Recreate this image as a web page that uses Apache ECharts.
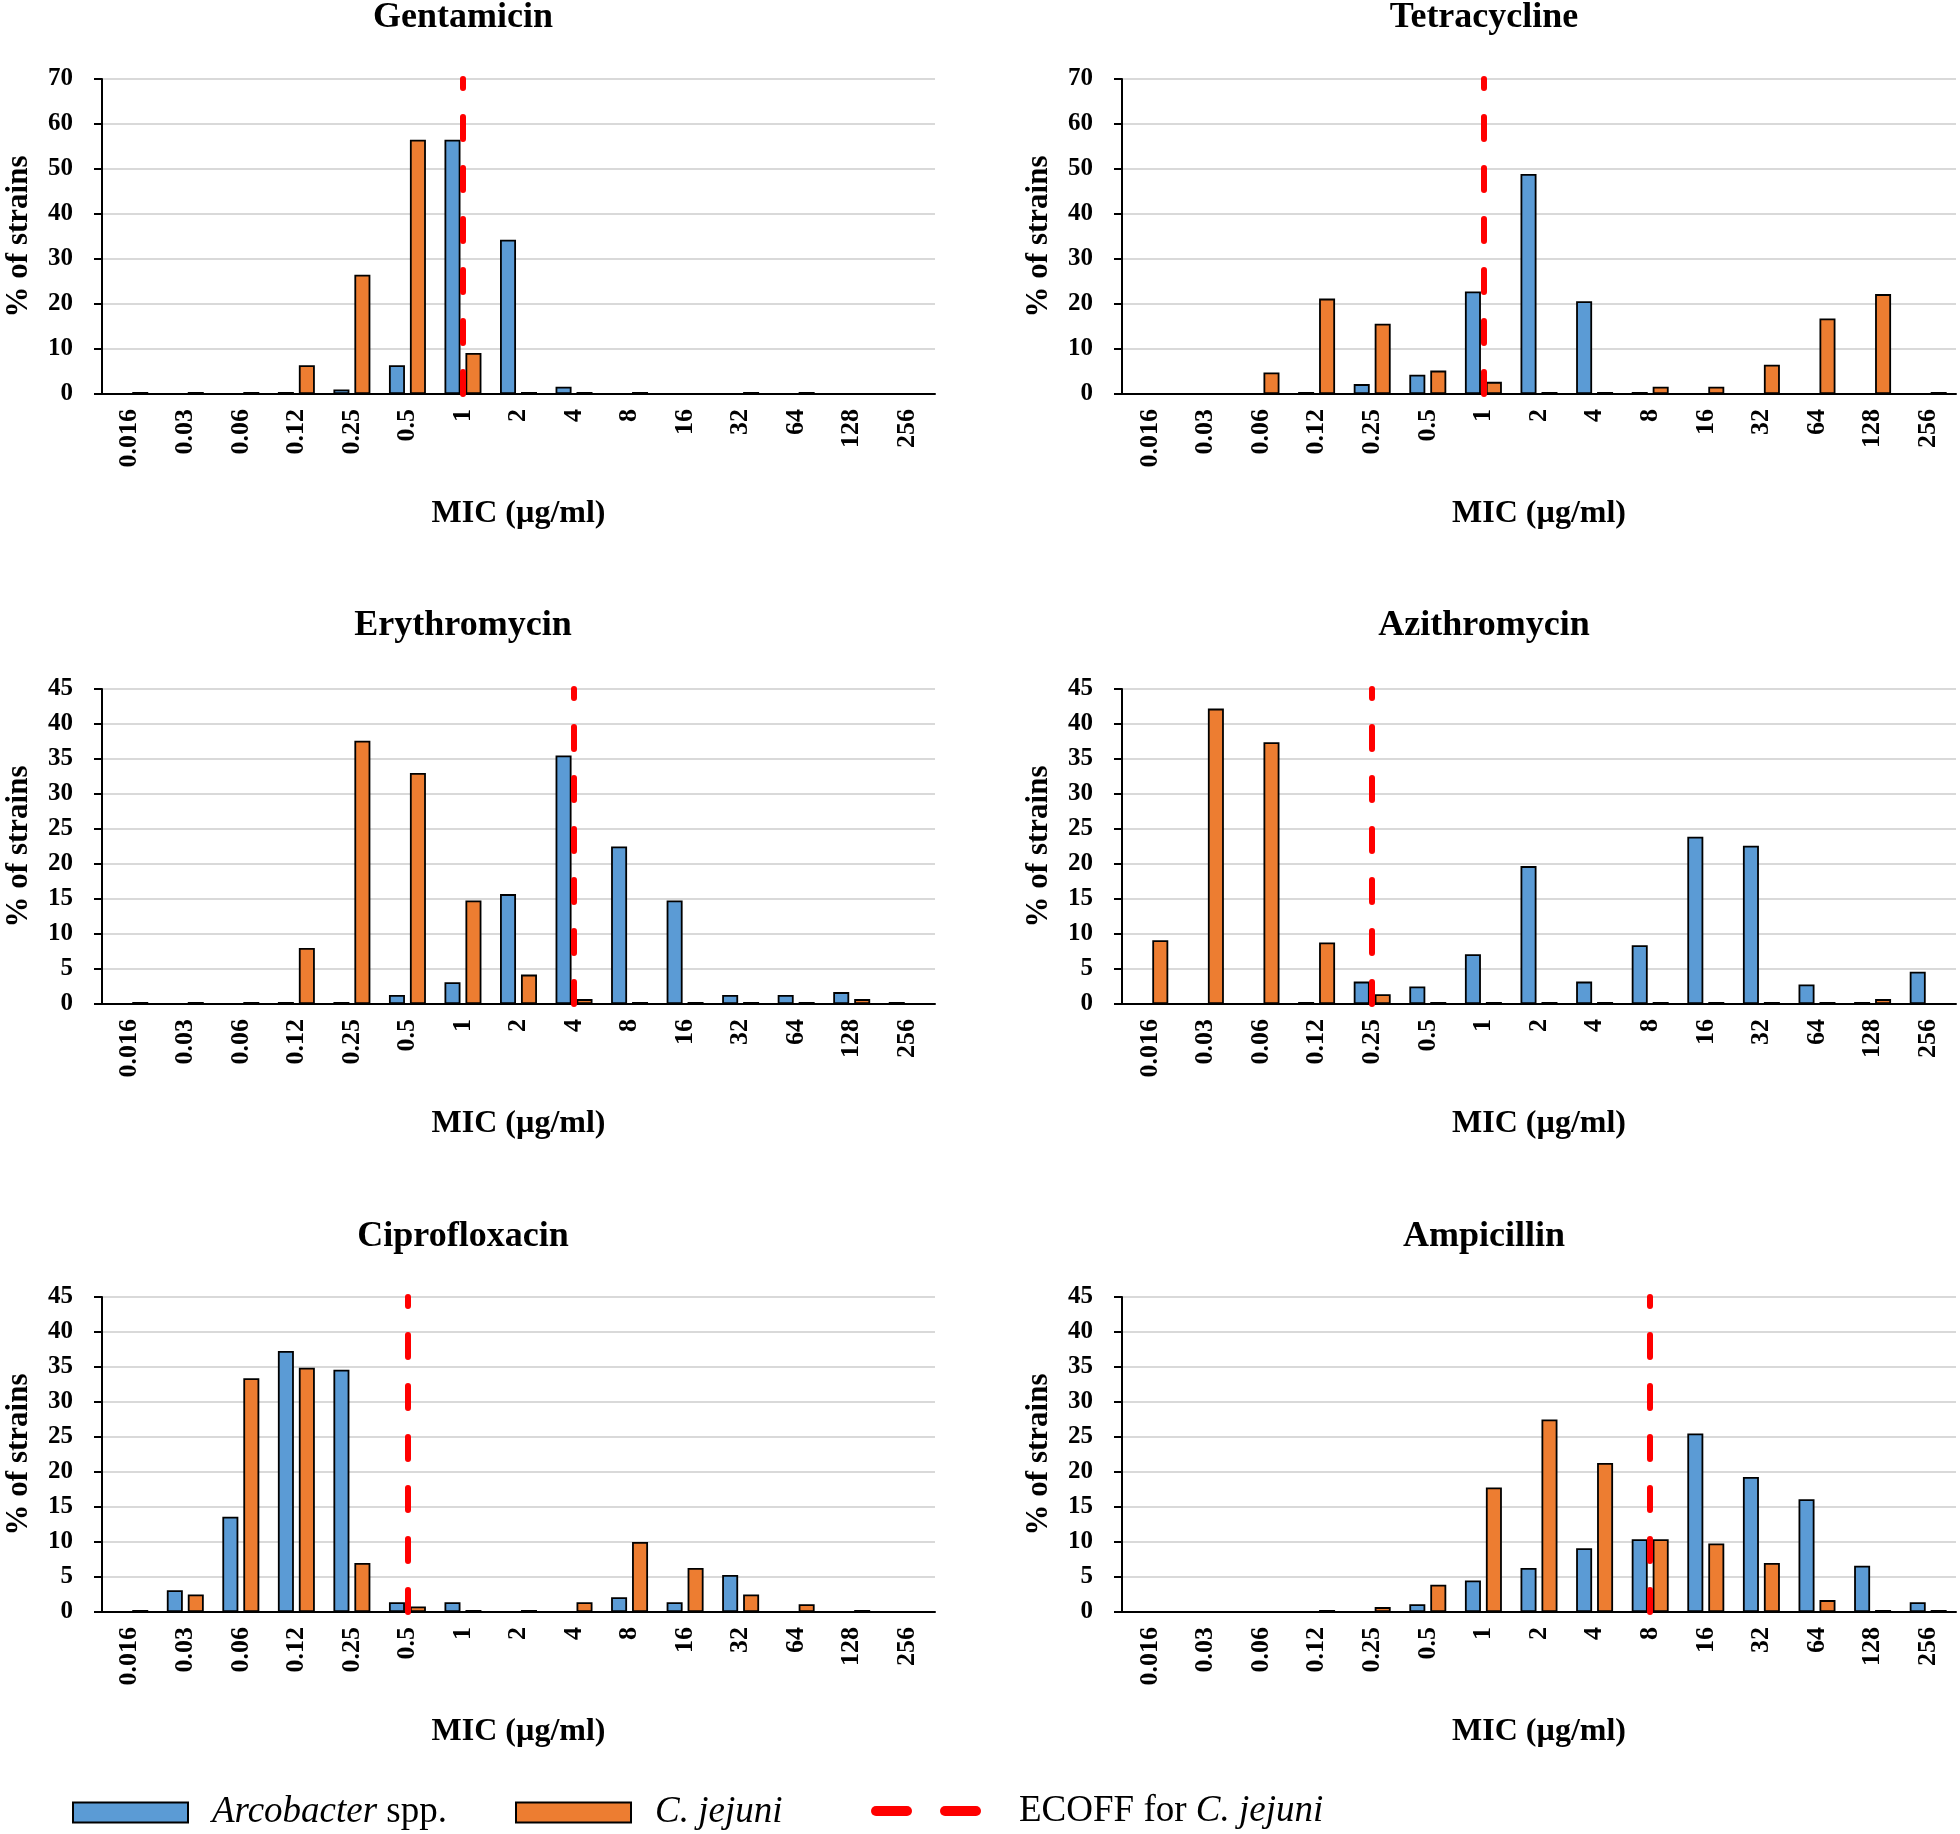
<!DOCTYPE html>
<html>
<head>
<meta charset="utf-8">
<script src="https://cdn.jsdelivr.net/npm/echarts@6/dist/echarts.min.js"></script>
<style>html,body{margin:0;padding:0;background:#fff}#c{width:1960px;height:1834px}</style>
</head>
<body>
<div id="c"></div>
<script>
const FONT = '"Liberation Serif", "Times New Roman", serif';

const categories = ['0.016','0.03','0.06','0.12','0.25','0.5','1','2','4','8','16','32','64','128','256'];
const panelTitles = ['Gentamicin','Tetracycline','Erythromycin','Azithromycin','Ciprofloxacin','Ampicillin'];
const seriesNames = ['Arcobacter spp.', 'C. jejuni', 'ECOFF for C. jejuni'];

// null = no bar, 0 = zero bar (drawn as a thin border stub)
const arcobacterGentamicin    = [null,null,null,0,1.0,6.4,56.5,34.3,1.6,null,null,null,null,null,null];
const jejuniGentamicin        = [0,0,0,6.4,26.5,56.5,9.1,0,0,0,null,0,0,null,null];
const arcobacterTetracycline  = [null,null,null,0,2.2,4.3,22.8,48.9,20.6,0,null,null,null,null,null];
const jejuniTetracycline      = [null,null,4.8,21.2,15.6,5.2,2.7,0,0,1.6,1.6,6.5,16.8,22.2,0];
const arcobacterErythromycin  = [null,null,null,0,0,1.3,3.1,15.7,35.5,22.5,14.8,1.3,1.3,1.7,0];
const jejuniErythromycin      = [0,0,0,8.0,37.6,33.0,14.8,4.2,0.7,0,0,0,0,0.7,null];
const arcobacterAzithromycin  = [null,null,null,0,3.2,2.5,7.1,19.7,3.2,8.4,23.9,22.6,2.8,0,4.6];
const jejuniAzithromycin      = [9.1,42.2,37.4,8.8,1.4,0,0,0,0,0,0,0,0,0.7,null];
const arcobacterCiprofloxacin = [null,3.1,13.6,37.3,34.6,1.4,1.4,null,null,2.1,1.4,5.3,null,null,null];
const jejuniCiprofloxacin     = [0,2.5,33.4,34.9,7.0,0.8,0,0,1.4,10.0,6.3,2.5,1.1,0,null];
const arcobacterAmpicillin    = [null,null,null,null,null,1.1,4.5,6.3,9.1,10.4,25.5,19.3,16.1,6.6,1.4];
const jejuniAmpicillin        = [null,null,null,0,0.7,3.9,17.8,27.5,21.3,10.4,9.8,7.0,1.7,0,0];

const ecoffValues = ['1','1','4','0.25','0.5','8'];
const yMaxValues  = [70,70,45,45,45,45];
const yIntervals  = [10,10,5,5,5,5];

const arcobacterData = [arcobacterGentamicin, arcobacterTetracycline, arcobacterErythromycin,
                        arcobacterAzithromycin, arcobacterCiprofloxacin, arcobacterAmpicillin];
const jejuniData = [jejuniGentamicin, jejuniTetracycline, jejuniErythromycin,
                    jejuniAzithromycin, jejuniCiprofloxacin, jejuniAmpicillin];

// layout
const colLefts = [102, 1122];
const colCenters = [463, 1484];
const rowTops = [79, 689, 1297];
const titleYs = [18, 626, 1237];
const plotW = 833, plotH = 315;

const grids = [], xAxes = [], yAxes = [], series = [], graphics = [];
for (let i = 0; i < 6; i++) {
  const col = i % 2, row = Math.floor(i / 2);
  grids.push({left: colLefts[col], top: rowTops[row], width: plotW + (col ? 1 : 0), height: plotH, containLabel: false});
  xAxes.push({
    type: 'category', gridIndex: i, data: categories,
    axisLine: {lineStyle: {color: '#000', width: 2}},
    axisTick: {alignWithLabel: true, length: 7, lineStyle: {color: '#000', width: 2}},
    axisLabel: {rotate: 90, interval: 0, margin: 15, color: '#000', fontFamily: FONT, fontWeight: 'bold', fontSize: 26},
    name: 'MIC (µg/ml)', nameLocation: 'middle', nameGap: 104,
    nameTextStyle: {color: '#000', fontFamily: FONT, fontWeight: 'bold', fontSize: 32}
  });
  yAxes.push({
    type: 'value', gridIndex: i, min: 0, max: yMaxValues[i], interval: yIntervals[i],
    axisLine: {show: true, lineStyle: {color: '#000', width: 2}},
    axisTick: {show: true, length: 8, lineStyle: {color: '#000', width: 2}},
    splitLine: {show: true, lineStyle: {color: '#D9D9D9', width: 2}},
    axisLabel: {margin: 29, color: '#000', fontFamily: FONT, fontWeight: 'bold', fontSize: 25},
    name: '% of strains', nameLocation: 'middle', nameGap: 68,
    nameTextStyle: {color: '#000', fontFamily: FONT, fontWeight: 'bold', fontSize: 31}
  });
  const ecoffIdx = categories.indexOf(ecoffValues[i]);
  series.push({
    type: 'bar', name: seriesNames[0], xAxisIndex: i, yAxisIndex: i, data: arcobacterData[i],
    barWidth: 16, barGap: '31%', barMinHeight: 2,
    itemStyle: {color: '#5B9BD5', borderColor: '#000', borderWidth: 1.8}
  });
  series.push({
    type: 'bar', name: seriesNames[1], xAxisIndex: i, yAxisIndex: i, data: jejuniData[i],
    barWidth: 16, barGap: '31%', barMinHeight: 2,
    itemStyle: {color: '#ED7D31', borderColor: '#000', borderWidth: 1.8}
  });
  series.push({
    type: 'line', name: seriesNames[2], xAxisIndex: i, yAxisIndex: i, data: [], z: 5,
    symbol: 'none',
    markLine: {
      silent: true, symbol: ['none', 'none'], label: {show: false},
      lineStyle: {color: '#FF0000', width: 6, type: [22, 29], cap: 'round'},
      data: [[{coord: [ecoffIdx, 0]}, {coord: [ecoffIdx, yMaxValues[i]]}]]
    }
  });
  graphics.push({
    type: 'text', x: colCenters[col], y: titleYs[row],
    style: {text: panelTitles[i], fill: '#000', fontFamily: FONT, fontWeight: 'bold', fontSize: 36,
            align: 'center', verticalAlign: 'middle', textAlign: 'center', textVerticalAlign: 'middle'}
  });
}

// ECOFF legend entry
graphics.push({type: 'rect', shape: {x: 871, y: 1806, width: 41, height: 10, r: 5}, style: {fill: '#FF0000'}});
graphics.push({type: 'rect', shape: {x: 940, y: 1806, width: 41, height: 10, r: 5}, style: {fill: '#FF0000'}});
graphics.push({
  type: 'text', x: 1019, y: 1811,
  style: {text: 'ECOFF for {i|C. jejuni}', fill: '#000', fontFamily: FONT, fontSize: 37,
          verticalAlign: 'middle', textVerticalAlign: 'middle',
          rich: {i: {fontFamily: FONT, fontSize: 37, fontStyle: 'italic', fill: '#000'}}}
});

const legendCommon = {
  top: 1794, padding: 0, itemWidth: 115, itemHeight: 20, icon: 'rect', selectedMode: false,
  itemStyle: {borderColor: '#000', borderWidth: 2}
};

const chart = echarts.init(document.getElementById('c'));
chart.setOption({
  animation: false,
  backgroundColor: '#fff',
  grid: grids, xAxis: xAxes, yAxis: yAxes, series: series,
  legend: [
    Object.assign({}, legendCommon, {
      left: 72, data: [seriesNames[0]],
      formatter: () => '{i|Arcobacter}{r| spp.}',
      textStyle: {rich: {
        i: {fontFamily: FONT, fontSize: 37, fontStyle: 'italic', color: '#000', padding: [0, 0, 0, 19]},
        r: {fontFamily: FONT, fontSize: 37, color: '#000'}
      }}
    }),
    Object.assign({}, legendCommon, {
      left: 515, data: [seriesNames[1]],
      formatter: () => '{i|C. jejuni}',
      textStyle: {rich: {
        i: {fontFamily: FONT, fontSize: 37, fontStyle: 'italic', color: '#000', padding: [0, 0, 0, 19]}
      }}
    })
  ],
  graphic: graphics
});
</script>
</body>
</html>
